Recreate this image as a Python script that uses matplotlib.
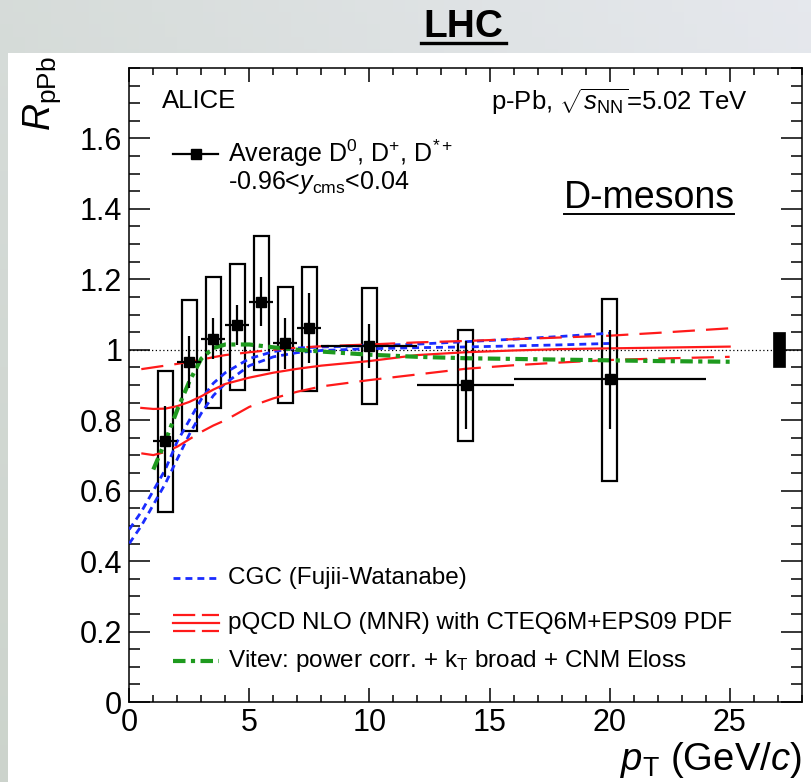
import matplotlib
matplotlib.use("Agg")
import matplotlib.pyplot as plt
from matplotlib.patches import Rectangle
from matplotlib.ticker import MultipleLocator
import numpy as np

plt.rcParams['font.family'] = ['Liberation Sans', 'DejaVu Sans']
plt.rcParams['mathtext.fontset'] = 'custom'
plt.rcParams['mathtext.rm'] = 'Liberation Sans'
plt.rcParams['mathtext.it'] = 'Liberation Sans:italic'
plt.rcParams['mathtext.bf'] = 'Liberation Sans:bold'

# ---- ALICE D-meson R_pPb (average of D0, D+, D*+) ----
pt = [1.5, 2.5, 3.5, 4.5, 5.5, 6.5, 7.5, 10.0, 14.0, 20.0]
pt_halfbin = [0.5, 0.5, 0.5, 0.5, 0.5, 0.5, 0.5, 2.0, 2.0, 4.0]
rppb = [0.740, 0.966, 1.031, 1.070, 1.137, 1.018, 1.062, 1.010, 0.901, 0.916]
stat_err = [0.100, 0.074, 0.058, 0.056, 0.069, 0.073, 0.100, 0.063, 0.125, 0.141]
syst_lo = [0.200, 0.196, 0.195, 0.184, 0.193, 0.169, 0.179, 0.165, 0.159, 0.288]
syst_hi = [0.200, 0.174, 0.176, 0.174, 0.186, 0.160, 0.174, 0.164, 0.155, 0.228]
norm_unc = 0.05  # global normalisation uncertainty drawn at the right edge

# ---- CGC (Fujii-Watanabe) band edges ----
cgc_pt = [0, 0.5, 1, 1.5, 2, 2.5, 3, 3.5, 4, 5, 6, 7, 8, 10, 12, 14, 16, 18, 20]
cgc_hi = [0.490, 0.540, 0.600, 0.660, 0.740, 0.800, 0.860, 0.905, 0.935, 0.975,
          0.995, 1.005, 1.008, 1.012, 1.016, 1.023, 1.030, 1.038, 1.047]
cgc_lo = [0.450, 0.500, 0.560, 0.620, 0.690, 0.760, 0.820, 0.870, 0.905, 0.955,
          0.980, 0.992, 0.998, 1.003, 1.006, 1.008, 1.011, 1.014, 1.018]

# ---- pQCD NLO (MNR) with CTEQ6M+EPS09: central value and envelope ----
mnr_pt = [0.5, 1, 1.5, 2, 2.5, 3, 3.5, 4, 5, 6, 7, 8, 10, 12, 14, 16, 18, 20, 22, 25]
mnr_central = [0.835, 0.832, 0.833, 0.840, 0.852, 0.868, 0.887, 0.903, 0.921, 0.935,
               0.946, 0.955, 0.968, 0.985, 0.993, 0.998, 1.002, 1.004, 1.006, 1.009]
mnr_upper = [0.945, 0.950, 0.955, 0.960, 0.966, 0.972, 0.979, 0.985, 0.993, 1.000,
             1.006, 1.010, 1.015, 1.021, 1.025, 1.030, 1.035, 1.040, 1.048, 1.061]
mnr_lower = [0.706, 0.701, 0.710, 0.725, 0.746, 0.767, 0.785, 0.800, 0.838, 0.862,
             0.881, 0.896, 0.914, 0.930, 0.946, 0.956, 0.964, 0.971, 0.975, 0.980]

# ---- Vitev: power corrections + kT broadening + CNM energy loss ----
vitev_pt = [1.0, 1.25, 1.5, 2, 2.5, 3, 3.5, 4, 5, 6, 7, 8, 10, 12, 14, 16, 18, 20, 22, 25]
vitev = [0.660, 0.700, 0.740, 0.830, 0.910, 0.975, 1.005, 1.015, 1.015, 1.007,
         1.000, 0.995, 0.986, 0.980, 0.976, 0.974, 0.972, 0.970, 0.968, 0.966]

W, H = 811, 782
fig = plt.figure(figsize=(W / 100, H / 100), dpi=100)

# slide-like backdrop with a white panel holding the plot
bg = fig.add_axes([0, 0, 1, 1], zorder=-10)
bg.set_xlim(0, 1)
bg.set_ylim(0, 1)
bg.axis('off')
gx = np.linspace(0, 1, 64)[None, :]
gy = np.linspace(0, 1, 64)[:, None]
c0 = np.array([0.80, 0.83, 0.80])
c1 = np.array([0.90, 0.91, 0.93])
t = (0.6 * gx + 0.4 * (1 - gy))[..., None]
img = c0 * (1 - t) + c1 * t
bg.imshow(img, extent=[0, 1, 0, 1], aspect='auto', origin='upper')
bg.add_patch(Rectangle((8 / W, 0), 1, 1 - 53 / H, facecolor='white', edgecolor='none'))

fig.text(463 / W, 1 - 27 / H, 'LHC', ha='center', va='center',
         fontsize=28, fontweight='bold', color='black')
fig.add_artist(plt.Line2D([421 / W, 506 / W], [1 - 43 / H, 1 - 43 / H],
                          color='black', lw=2.4, transform=fig.transFigure))

ax = fig.add_axes([129.3 / W, (H - 702) / H, 672.4 / W, 634 / H])
ax.set_xlim(0, 28)
ax.set_ylim(0, 1.8)

# reference line at unity
ax.axhline(1.0, color='black', lw=0.9, ls=(0, (1, 2)), zorder=1)

# systematic boxes
box_hw = 0.32
for x, y, lo, hi in zip(pt, rppb, syst_lo, syst_hi):
    ax.add_patch(Rectangle((x - box_hw, y - lo), 2 * box_hw, lo + hi,
                           facecolor='none', edgecolor='black', lw=1.6, zorder=2))

# normalisation box
ax.add_patch(Rectangle((26.8, 1 - norm_unc), 0.5, 2 * norm_unc,
                       facecolor='black', edgecolor='black', lw=0.5, zorder=2))

# model curves
for yv in (cgc_hi, cgc_lo):
    ax.plot(cgc_pt, yv, color='#1a2cff', lw=2.0, ls=(0, (2.5, 1.8)), zorder=3)
ax.plot(mnr_pt, mnr_central, color='#ff1a1a', lw=1.6, zorder=3)
for yv in (mnr_upper, mnr_lower):
    ax.plot(mnr_pt, yv, color='#ff1a1a', lw=1.6, ls=(0, (10, 5)), zorder=3)
ax.plot(vitev_pt, vitev, color='#1e9a1e', lw=3.0, ls=(0, (3, 1.3, 1, 1.3)), zorder=3)

# data points with statistical errors
ax.errorbar(pt, rppb, xerr=pt_halfbin, yerr=stat_err, fmt='s', color='black',
            ms=7.5, lw=1.6, capsize=0, zorder=5)

# axes styling
ax.xaxis.set_major_locator(MultipleLocator(5))
ax.xaxis.set_minor_locator(MultipleLocator(1))
ax.set_yticks([0, 0.2, 0.4, 0.6, 0.8, 1.0, 1.2, 1.4, 1.6])
ax.set_yticklabels(['0', '0.2', '0.4', '0.6', '0.8', '1', '1.2', '1.4', '1.6'])
ax.yaxis.set_minor_locator(MultipleLocator(0.05))
ax.tick_params(which='both', direction='in', top=True, right=True, width=1.1)
ax.tick_params(axis='y', which='major', length=15, labelsize=22, pad=5)
ax.tick_params(axis='y', which='minor', length=7.7)
ax.tick_params(axis='x', which='major', length=10, labelsize=22, pad=4)
ax.tick_params(axis='x', which='minor', length=5)
for s in ax.spines.values():
    s.set_linewidth(1.1)

fig.text(42 / W, 1 - 56 / H, r'$R_{\mathrm{pPb}}$', rotation=90, ha='center', va='top', fontsize=27)
fig.text(802 / W, 1 - 770 / H, r'$p_{\mathrm{T}}$ (GeV/$c$)', ha='right', va='baseline', fontsize=27.5)

# annotations
ax.text(1.36, 1.705, 'ALICE', fontsize=18.5, va='center', ha='left')
ax.text(25.75, 1.705, r'p-Pb, $\sqrt{s_{\mathrm{NN}}}$=5.02 TeV', fontsize=18.5, va='center', ha='right')
ax.plot([1.82, 3.7], [1.557, 1.557], color='black', lw=1.6)
ax.plot([2.76], [1.557], 's', color='black', ms=7.5)
ax.text(4.1, 1.557, r'Average D$^{0}$, D$^{+}$, D$^{*+}$', fontsize=18, va='center', ha='left')
ax.text(4.1, 1.475, r'-0.96<$y_{\mathrm{cms}}$<0.04', fontsize=18, va='center', ha='left')
ax.text(18.1, 1.402, 'D-mesons', fontsize=27, va='baseline', ha='left')
ax.plot([18.1, 25.2], [1.385, 1.385], color='black', lw=1.4, clip_on=False)

# model legend
ax.plot([1.82, 3.73], [0.352, 0.352], color='#1a2cff', lw=2.0, ls=(0, (2.5, 1.8)))
ax.text(4.1, 0.352, 'CGC (Fujii-Watanabe)', fontsize=17.5, va='center', ha='left')
ax.plot([1.82, 3.73], [0.247, 0.247], color='#ff1a1a', lw=1.6, ls=(0, (10, 3)))
ax.plot([1.82, 3.73], [0.225, 0.225], color='#ff1a1a', lw=1.6)
ax.plot([1.82, 3.73], [0.202, 0.202], color='#ff1a1a', lw=1.6, ls=(0, (10, 3)))
ax.text(4.1, 0.225, 'pQCD NLO (MNR) with CTEQ6M+EPS09 PDF', fontsize=17.5, va='center', ha='left')
ax.plot([1.82, 3.73], [0.116, 0.116], color='#1e9a1e', lw=3.0, ls=(0, (3, 1.3, 1, 1.3)))
ax.text(4.1, 0.116, r'Vitev: power corr. + k$_{\mathrm{T}}$ broad + CNM Eloss', fontsize=17.5, va='center', ha='left')

fig.savefig('out.png', dpi=100)
